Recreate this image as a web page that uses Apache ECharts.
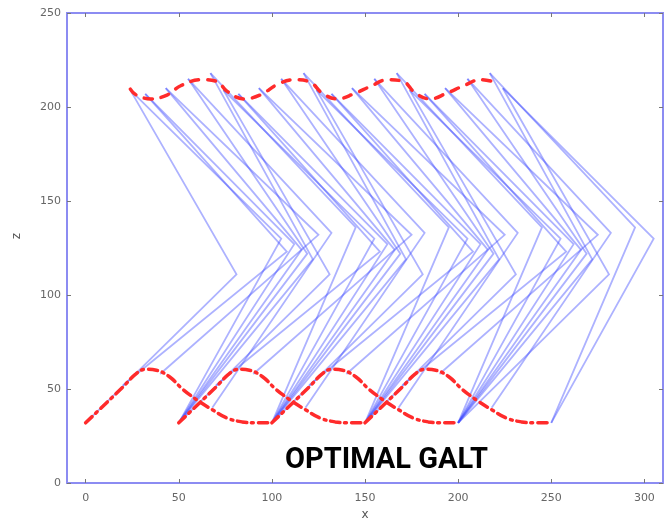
<!DOCTYPE html>
<html>
<head>
<meta charset="utf-8">
<title>Optimal gait</title>
<script src="https://cdn.jsdelivr.net/npm/echarts@6/dist/echarts.min.js"></script>
<style>
  html, body { margin: 0; padding: 0; background: #fff; }
  #container { width: 672px; height: 524px; }
</style>
</head>
<body>
<div id="container"></div>
<script>
// tick labels
var xTicks = [0, 50, 100, 150, 200, 250, 300];
var yTicks = [0, 50, 100, 150, 200, 250];

// stick figure frames: hip, stance leg (knee A, foot A), swing leg (knee B, foot B)
var hipX = [24, 32, 43, 55, 67, 74, 82, 93, 105, 117, 124, 132, 143, 155, 167, 174, 182, 193, 205, 217, 224];
var hipZ = [209, 207, 210, 215, 218, 209, 207, 210, 215, 218, 209, 207, 210, 215, 218, 209, 207, 210, 215, 218, 210];

var kneeAX = [105, 112, 116, 119, 122, 155, 162, 166, 169, 172, 205, 212, 216, 219, 222, 255, 262, 266, 269, 272, 305];
var kneeAZ = [130, 127, 124, 122, 119, 130, 127, 124, 122, 119, 130, 127, 124, 122, 119, 130, 127, 124, 122, 119, 130];
var footAX = [50, 50, 50, 50, 50, 100, 100, 100, 100, 100, 150, 150, 150, 150, 150, 200, 200, 200, 200, 200, 250];
var footAZ = [32, 32, 32, 32, 32, 32, 32, 32, 32, 32, 32, 32, 32, 32, 32, 32, 32, 32, 32, 32, 32];

var kneeBX = [81, 108, 125, 132, 145, 131, 158, 175, 182, 195, 181, 208, 225, 232, 245, 231, 258, 275, 282, 295, 281];
var kneeBZ = [111, 123, 132, 133, 136, 111, 123, 132, 133, 136, 111, 123, 132, 133, 136, 111, 123, 132, 133, 136, 111];
var footBX = [0, 20, 40, 68, 100, 50, 70, 90, 118, 150, 100, 120, 140, 168, 200, 150, 170, 190, 218, 250, 200];
var footBZ = [32, 52, 58, 40, 32, 32, 52, 58, 40, 32, 32, 52, 58, 40, 32, 32, 52, 58, 40, 32, 32];

// hip path (red dashed, top)
var hipPathX = [24, 27, 35, 44, 51, 62, 70.5, 76, 85, 94, 103, 112, 120.5, 127, 135, 144, 153, 162, 170.5, 177, 185, 194, 203, 212, 222];
var hipPathZ = [209.5, 206.5, 204.3, 206.5, 211.3, 214.5, 213.6, 208.3, 204.3, 206.5, 212, 214.5, 213.3, 207.4, 204.3, 207, 211, 214.5, 213.6, 207.4, 204.3, 207.4, 211.3, 214.5, 212.8];

// swing foot paths (red dash-dot, bottom)
var footArc1X = [0, 10, 20, 27, 32, 38, 45, 52, 60, 68, 76, 84, 92, 100];
var footArc2X = [50, 60, 70, 77, 82, 88, 95, 102, 110, 118, 126, 134, 142, 150];
var footArc3X = [100, 110, 120, 127, 132, 138, 145, 152, 160, 168, 176, 184, 192, 200];
var footArc4X = [150, 160, 170, 177, 182, 188, 195, 202, 210, 218, 226, 234, 242, 250];
var footArcZ = [32, 41.5, 51, 58, 60.5, 60, 56.5, 50, 44, 39, 34.5, 32.5, 32, 32];

(function () {
	var myChart = echarts.init(document.getElementById('container'));

	// one polyline per leg per frame
	var legs = [];
	for (var i = 0; i < hipX.length; i++) {
		legs.push({ coords: [[hipX[i], hipZ[i]], [kneeAX[i], kneeAZ[i]], [footAX[i], footAZ[i]]] });
		legs.push({ coords: [[hipX[i], hipZ[i]], [kneeBX[i], kneeBZ[i]], [footBX[i], footBZ[i]]] });
	}

	function zip(xs, zs) {
		return xs.map(function (x, k) { return [x, zs[k]]; });
	}

	var arcStyle = { color: '#ff2b2b', width: 3.5, type: [9, 5, 2, 5], cap: 'round' };
	function arcSeries(xs) {
		return {
			type: 'line', data: zip(xs, footArcZ), smooth: 0.4, symbol: 'none',
			lineStyle: arcStyle, z: 5, silent: true
		};
	}

	var tickStyle = { show: true, inside: true, length: 4, lineStyle: { color: '#777', width: 1 } };
	var labelStyle = { color: '#666', fontSize: 11, fontFamily: 'DejaVu Sans' };
	var noLine = { show: false, onZero: false };

	var option = {
		animation: false,
		grid: {
			left: 67, right: 9, top: 13, bottom: 41,
			containLabel: false, outerBoundsMode: 'none',
			show: true, borderColor: '#8c8cf2', borderWidth: 2, backgroundColor: '#fff'
		},
		xAxis: [{
			type: 'value', min: -10, max: 310,
			axisLine: noLine,
			axisTick: Object.assign({ customValues: xTicks }, tickStyle),
			axisLabel: Object.assign({ customValues: xTicks, margin: 10 }, labelStyle),
			splitLine: { show: false },
			name: 'x', nameLocation: 'middle', nameGap: 24,
			nameTextStyle: { color: '#555', fontSize: 12, fontFamily: 'DejaVu Sans' }
		}, {
			type: 'value', min: -10, max: 310, position: 'top',
			axisLine: noLine,
			axisTick: Object.assign({ customValues: xTicks }, tickStyle),
			axisLabel: { show: false },
			splitLine: { show: false }
		}],
		yAxis: [{
			type: 'value', min: 0, max: 250, interval: 50, position: 'left',
			axisLine: noLine,
			axisTick: Object.assign({ customValues: yTicks }, tickStyle),
			axisLabel: Object.assign({ customValues: yTicks, margin: 6 }, labelStyle),
			splitLine: { show: false }
		}, {
			type: 'value', min: 0, max: 250, interval: 50, position: 'right',
			axisLine: noLine,
			axisTick: Object.assign({ customValues: yTicks }, tickStyle),
			axisLabel: { show: false },
			splitLine: { show: false }
		}],
		graphic: [{
			type: 'text', x: 11, y: 236, rotation: Math.PI / 2,
			style: {
				text: 'z', fill: '#555', font: '12px "DejaVu Sans"',
				align: 'center', verticalAlign: 'top'
			}
		}, {
			type: 'text', left: 285, top: 446,
			style: {
				text: 'OPTIMAL GALT', fill: '#000',
				font: 'bold 29px Roboto, "DejaVu Sans", sans-serif'
			},
			z: 10
		}],
		series: [{
			type: 'lines', coordinateSystem: 'cartesian2d', polyline: true,
			data: legs, silent: true,
			lineStyle: { color: 'rgba(60,72,255,0.42)', width: 1.8, opacity: 1 },
			z: 2
		}, {
			type: 'line', data: zip(hipPathX, hipPathZ), smooth: 0.4, symbol: 'none',
			lineStyle: { color: '#ff2b2b', width: 3.5, type: [8, 9], cap: 'round' },
			z: 5, silent: true
		},
			arcSeries(footArc1X), arcSeries(footArc2X), arcSeries(footArc3X), arcSeries(footArc4X)
		]
	};
	myChart.setOption(option);
})();
</script>
</body>
</html>
